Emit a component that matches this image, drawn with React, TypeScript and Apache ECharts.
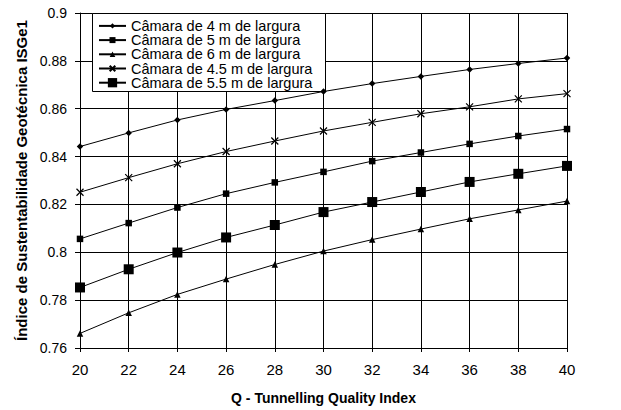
import React, { useEffect, useRef } from "react";
import * as echarts from "echarts";

const qValues = [20, 22, 24, 26, 28, 30, 32, 34, 36, 38, 40];
const seriesNames = [
  "Câmara de 4 m de largura",
  "Câmara de 5 m de largura",
  "Câmara de 6 m de largura",
  "Câmara de 4.5 m de largura",
  "Câmara de 5.5 m de largura",
];
const cam4 = [0.8442, 0.8499, 0.8553, 0.8597, 0.8634, 0.8672, 0.8705, 0.8735, 0.8764, 0.8789, 0.8812];
const cam5 = [0.8056, 0.8122, 0.8187, 0.8245, 0.8292, 0.8336, 0.8381, 0.8417, 0.8453, 0.8486, 0.8515];
const cam6 = [0.7661, 0.7747, 0.7824, 0.7888, 0.7949, 0.8005, 0.8053, 0.8097, 0.814, 0.8177, 0.8214];
const cam45 = [0.8251, 0.8312, 0.837, 0.8421, 0.8465, 0.8507, 0.8543, 0.8579, 0.8608, 0.8641, 0.8663];
const cam55 = [0.7853, 0.7929, 0.7999, 0.8062, 0.8114, 0.8168, 0.821, 0.8252, 0.8294, 0.8328, 0.8361];

const xTitle = "Q - Tunnelling Quality Index";
const yTitle = "Índice de Sustentabilidade Geotécnica ISGe1";

const FONT = "'Liberation Sans', Arial, sans-serif";

export default function App() {
  const ref = useRef<HTMLDivElement>(null);
  useEffect(() => {
    if (!ref.current) return;
    const chart = echarts.init(ref.current, null, { renderer: "svg" });
    const allData = [cam4, cam5, cam6, cam45, cam55];
    const symbols = [
      "diamond",
      "rect",
      "triangle",
      "path://M0,0L10,10M10,0L0,10",
      "rect",
    ];
    const sizes = [6.5, 6.5, 6.5, 7, 10];
    const legendIconH = [6.6, 7.5, 7, 7, 11.6];
    const series = allData.map((d, i) => ({
      name: seriesNames[i],
      type: "line",
      data: qValues.map((q, j) => [q, d[j]]),
      symbol: symbols[i],
      symbolSize: sizes[i],
      showAllSymbol: true,
      lineStyle: { color: "#000", width: 1 },
      itemStyle: {
        color: "#000",
        borderColor: "#000",
        borderWidth: i === 3 ? 1.2 : 0,
      },
      emphasis: { disabled: true },
    }));
    const rowTop = 18.4;
    const rowStep = 14.2;
    const legends = seriesNames.map((n, i) => ({
      orient: "vertical",
      left: 98,
      top: rowTop + i * rowStep,
      z: 10,
      data: [n],
      itemWidth: 27,
      itemHeight: legendIconH[i],
      itemGap: 0,
      padding: 0,
      selectedMode: false,
      textStyle: { fontFamily: FONT, fontSize: 14.5, lineHeight: 14.2, color: "#000" },
    }));
    chart.setOption({
      animation: false,
      backgroundColor: "#fff",
      textStyle: { fontFamily: FONT },
      grid: { left: 80, right: 54, top: 13, bottom: 60, containLabel: false },
      legend: legends,
      graphic: [
        {
          type: "rect",
          z: 3,
          shape: { x: 92.5, y: 13.5, width: 233, height: 78 },
          style: { fill: "#fff", stroke: "#000", lineWidth: 1 },
        },
      ],
      xAxis: {
        type: "value",
        min: 20,
        max: 40,
        interval: 2,
        name: xTitle,
        nameLocation: "middle",
        nameGap: 43,
        nameTextStyle: { fontFamily: FONT, fontSize: 14, fontWeight: "bold", color: "#000" },
        axisLine: { show: true, lineStyle: { color: "#000", width: 1 } },
        axisTick: { show: true, length: 4, lineStyle: { color: "#000" } },
        axisLabel: { fontFamily: FONT, fontSize: 15, color: "#000", margin: 14 },
        splitLine: { show: true, lineStyle: { color: "#000", width: 1 } },
      },
      yAxis: {
        type: "value",
        min: 0.76,
        max: 0.9,
        interval: 0.02,
        name: yTitle,
        nameLocation: "middle",
        nameGap: 49,
        nameTextStyle: { fontFamily: FONT, fontSize: 15, fontWeight: "bold", color: "#000" },
        axisLine: { show: true, lineStyle: { color: "#000", width: 1 } },
        axisTick: { show: true, length: 5, lineStyle: { color: "#000" } },
        axisLabel: { fontFamily: FONT, fontSize: 14, color: "#000", margin: 13 },
        splitLine: { show: true, lineStyle: { color: "#000", width: 1 } },
      },
      series,
    });
    return () => chart.dispose();
  }, []);
  return (
    <div
      ref={ref}
      style={{ position: "fixed", left: 0, top: 0, width: 621, height: 410, background: "#fff" }}
    />
  );
}
